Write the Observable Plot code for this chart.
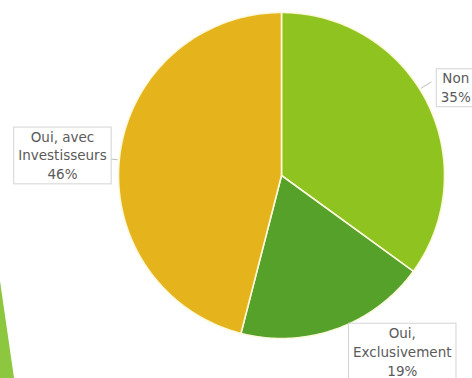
<!DOCTYPE html>
<html>
<head>
<meta charset="utf-8">
<script src="https://cdn.jsdelivr.net/npm/d3@7"></script>
<script src="https://cdn.jsdelivr.net/npm/@observablehq/plot@0.6"></script>
<style>
  html, body { margin: 0; padding: 0; background: #ffffff; }
  #wrap { position: relative; width: 472px; height: 378px; overflow: hidden; }
  #deco { position: absolute; left: 0; top: 0; width: 472px; height: 378px;
          background: #8dc63f; clip-path: polygon(0px 281px, 14px 378px, 0px 378px); }
  #chart { position: absolute; left: 0; top: 0; }
</style>
</head>
<body>
<div id="wrap"><div id="deco"></div><div id="chart"></div></div>
<script>
// ---- data ----
const categories = ["Non", "Oui, Exclusivement", "Oui, avec Investisseurs"];
const labelTexts = ["Non", "Oui,\nExclusivement", "Oui, avec\nInvestisseurs"];
const percents = [35, 19, 46];
const colors = ["#8fc31f", "#55a12a", "#e5b41d"];

// ---- layout (not data) ----
const W = 472, H = 378;
const cx = 281, cy = 175, R = 163;
const labelRadius = [1.2, 1.305, 1.35];
const labelAngleShift = [0, -14.8, -1.7]; // degrees
const leaderAngleShift = [-5, null, -1.7];   // degrees; null = no leader line
const leaderOuter = [1.085, null, 1.055];

const rows = categories.map((c, i) => ({cat: c, value: percents[i], color: colors[i],
  label: labelTexts[i] + "\n" + percents[i] + "%"}));
const arcs = d3.pie().sort(null).value(d => d.value)(rows);

// polygon points per slice (unit circle, y up, angle clockwise from 12 o'clock)
const pts = [];
arcs.forEach(a => {
  const cat = a.data.cat;
  pts.push({cat, x: 0, y: 0});
  const n = Math.max(2, Math.ceil((a.endAngle - a.startAngle) / (Math.PI / 180)));
  for (let k = 0; k <= n; k++) {
    const t = a.startAngle + (a.endAngle - a.startAngle) * k / n;
    pts.push({cat, x: Math.sin(t), y: Math.cos(t)});
  }
  pts.push({cat, x: 0, y: 0});
});

const labels = arcs.map((a, i) => {
  const mid = (a.startAngle + a.endAngle) / 2 + labelAngleShift[i] * Math.PI / 180;
  return {label: a.data.label, x: Math.sin(mid) * labelRadius[i], y: Math.cos(mid) * labelRadius[i]};
});

const leaders = arcs.map((a, i) => {
  if (leaderAngleShift[i] === null) return null;
  const m = (a.startAngle + a.endAngle) / 2 + leaderAngleShift[i] * Math.PI / 180;
  return {x1: Math.sin(m) * 1.01, y1: Math.cos(m) * 1.01,
          x2: Math.sin(m) * leaderOuter[i], y2: Math.cos(m) * leaderOuter[i]};
}).filter(d => d);

const chart = Plot.plot({
  width: W, height: H,
  margin: 0,
  x: {domain: [-1, 1], range: [cx - R, cx + R], axis: null},
  y: {domain: [-1, 1], range: [cy + R, cy - R], axis: null},
  color: {domain: categories, range: colors},
  style: {background: "transparent"},
  marks: [
    Plot.link(leaders, {x1: "x1", y1: "y1", x2: "x2", y2: "y2", stroke: "#bdbdbd", strokeWidth: 1}),
    Plot.line(pts, {x: "x", y: "y", z: "cat", fill: "cat", stroke: "#fbf8dc", strokeWidth: 1.6, curve: "linear", strokeLinejoin: "round"}),
    Plot.text(labels, {x: "x", y: "y", text: "label", fontSize: 13.5, lineHeight: 1.4,
      fill: "#5a5a5a", fontFamily: "DejaVu Sans", className: "lbl"})
  ]
});
document.getElementById("chart").append(chart);

// boxes behind labels
const svgns = "http://www.w3.org/2000/svg";
chart.querySelectorAll(".lbl text").forEach(t => {
  const b = t.getBBox();
  const r = document.createElementNS(svgns, "rect");
  r.setAttribute("x", b.x - 4.5);
  r.setAttribute("y", b.y - 1.5);
  r.setAttribute("width", b.width + 9);
  r.setAttribute("height", b.height + 3);
  r.setAttribute("fill", "#ffffff");
  r.setAttribute("stroke", "#d4d4d4");
  r.setAttribute("stroke-width", 1);
  const tr = t.getAttribute("transform");
  if (tr) r.setAttribute("transform", tr);
  t.parentNode.insertBefore(r, t);
});
</script>
</body>
</html>
